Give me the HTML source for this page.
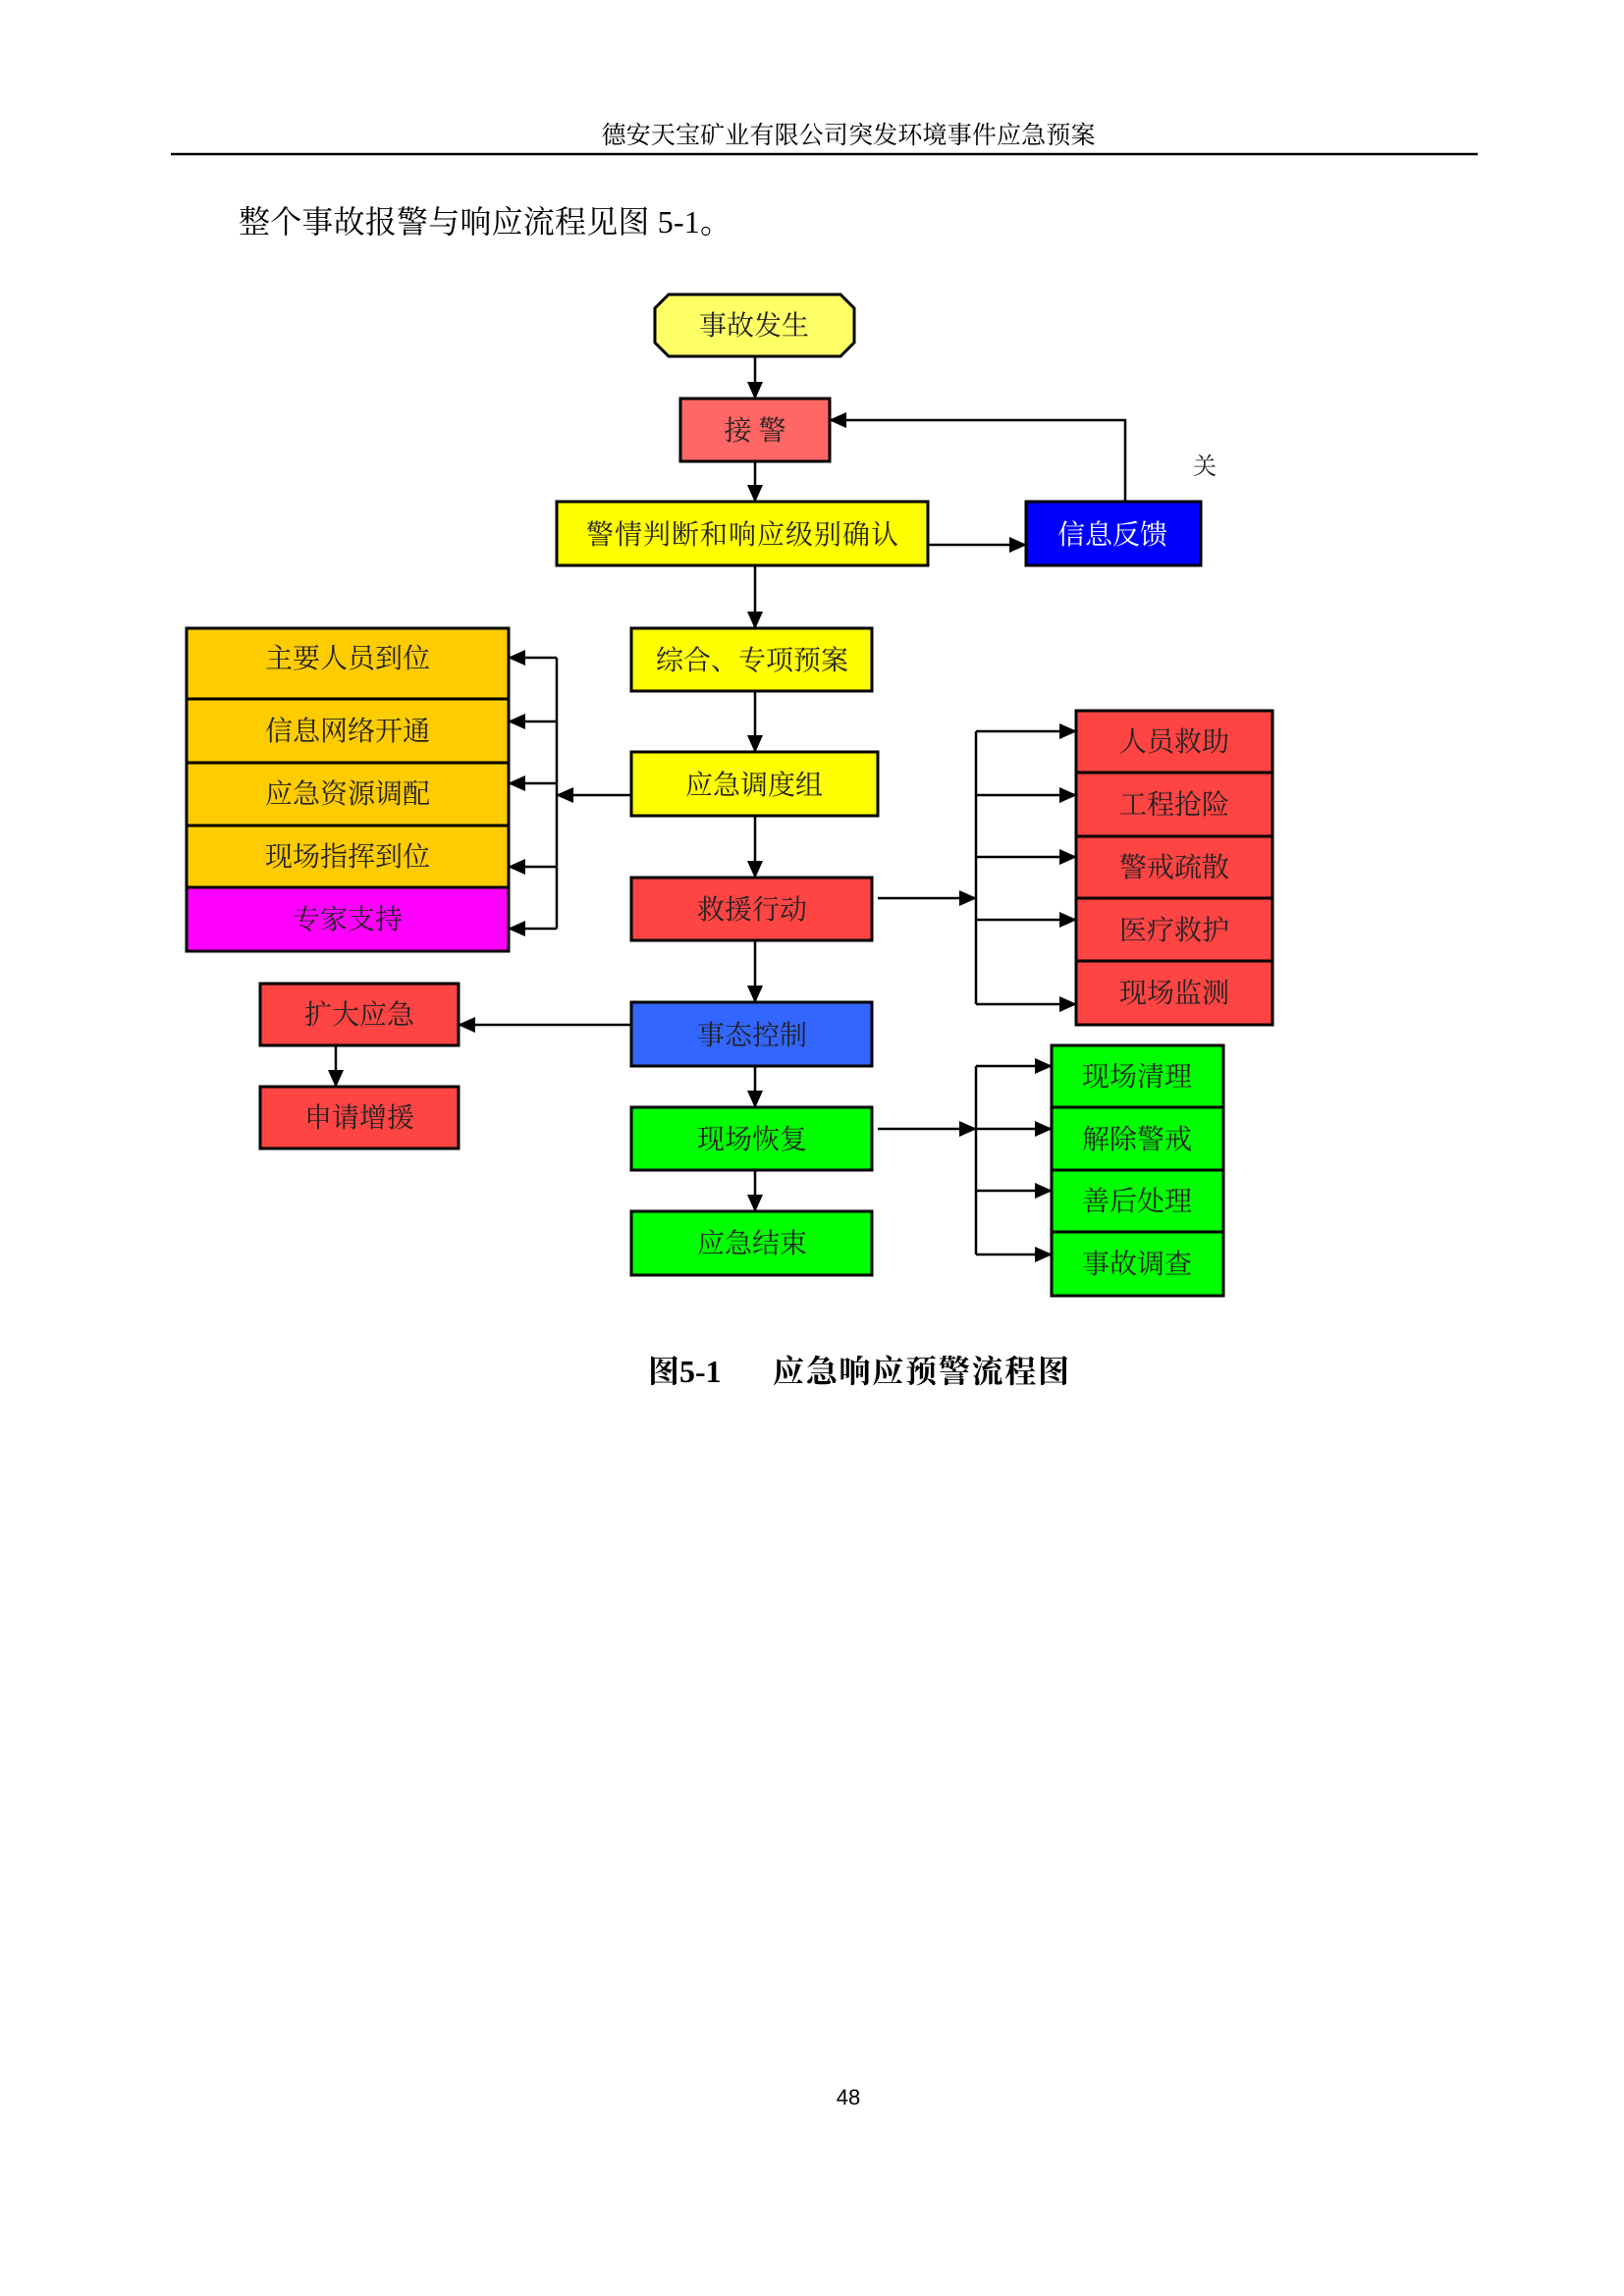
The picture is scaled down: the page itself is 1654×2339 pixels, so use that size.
<!DOCTYPE html>
<html><head><meta charset="utf-8"><style>
html,body{margin:0;padding:0;background:#fff;}
svg{display:block;}
text{font-family:"Liberation Serif","Noto Serif CJK SC",serif;}
text.sans{font-family:"Liberation Sans",sans-serif;}
</style></head><body>
<svg width="1654" height="2339" viewBox="0 0 1654 2339" xmlns="http://www.w3.org/2000/svg">
<defs>
<marker id="a" markerWidth="18" markerHeight="16" refX="17" refY="8" orient="auto" markerUnits="userSpaceOnUse">
<path d="M0,0 L18,8 L0,16 z" fill="#000"/></marker>
</defs>
<text x="864" y="146" font-size="25" text-anchor="middle" textLength="503">德安天宝矿业有限公司突发环境事件应急预案</text>
<line x1="174" y1="157" x2="1505" y2="157" stroke="#000" stroke-width="2.5"/>
<text x="243" y="237" font-size="32" textLength="502">整个事故报警与响应流程见图 5-1。</text>

<g stroke="#000" stroke-width="3" font-size="28">
<path d="M681,300 H856 L870,314 V349 L856,363 H681 L667,349 V314 Z" fill="#FFFF66"/>
<rect x="693" y="406" width="152" height="64" fill="#FF6666"/>
<rect x="567" y="511" width="378" height="65" fill="#FFFF00"/>
<rect x="1045" y="511" width="178" height="65" fill="#0000FF"/>
<rect x="643" y="640" width="245" height="64" fill="#FFFF00"/>
<rect x="643" y="766" width="251" height="65" fill="#FFFF00"/>
<rect x="643" y="894" width="245" height="64" fill="#FF4444"/>
<rect x="643" y="1021" width="245" height="65" fill="#3366FF"/>
<rect x="643" y="1128" width="245" height="64" fill="#00FF00"/>
<rect x="643" y="1234" width="245" height="65" fill="#00FF00"/>
<rect x="265" y="1002" width="202" height="63" fill="#FF4444"/>
<rect x="265" y="1107" width="202" height="63" fill="#FF4444"/>
<rect x="190" y="640" width="328" height="72" fill="#FFCC00"/>
<rect x="190" y="712" width="328" height="65" fill="#FFCC00"/>
<rect x="190" y="777" width="328" height="64" fill="#FFCC00"/>
<rect x="190" y="841" width="328" height="63" fill="#FFCC00"/>
<rect x="190" y="904" width="328" height="65" fill="#FF00FF"/>
<rect x="1096" y="724" width="200" height="63" fill="#FF4444"/>
<rect x="1096" y="787" width="200" height="65" fill="#FF4444"/>
<rect x="1096" y="852" width="200" height="63" fill="#FF4444"/>
<rect x="1096" y="915" width="200" height="64" fill="#FF4444"/>
<rect x="1096" y="979" width="200" height="65" fill="#FF4444"/>
<rect x="1071" y="1065" width="175" height="63" fill="#00FF00"/>
<rect x="1071" y="1128" width="175" height="64" fill="#00FF00"/>
<rect x="1071" y="1192" width="175" height="63" fill="#00FF00"/>
<rect x="1071" y="1255" width="175" height="65" fill="#00FF00"/>
</g>

<g stroke="#000" stroke-width="2.5" fill="none">
<line x1="769" y1="363" x2="769" y2="406" marker-end="url(#a)"/>
<line x1="769" y1="470" x2="769" y2="511" marker-end="url(#a)"/>
<line x1="769" y1="576" x2="769" y2="640" marker-end="url(#a)"/>
<line x1="769" y1="704" x2="769" y2="766" marker-end="url(#a)"/>
<line x1="769" y1="831" x2="769" y2="894" marker-end="url(#a)"/>
<line x1="769" y1="958" x2="769" y2="1021" marker-end="url(#a)"/>
<line x1="769" y1="1086" x2="769" y2="1128" marker-end="url(#a)"/>
<line x1="769" y1="1192" x2="769" y2="1234" marker-end="url(#a)"/>
<line x1="945" y1="555" x2="1045" y2="555" marker-end="url(#a)"/>
<polyline points="1146,511 1146,428 845,428" marker-end="url(#a)"/>
<line x1="643" y1="810" x2="567" y2="810" marker-end="url(#a)"/>
<line x1="567" y1="670" x2="567" y2="946"/>
<line x1="567" y1="670" x2="518" y2="670" marker-end="url(#a)"/>
<line x1="567" y1="735" x2="518" y2="735" marker-end="url(#a)"/>
<line x1="567" y1="798" x2="518" y2="798" marker-end="url(#a)"/>
<line x1="567" y1="883" x2="518" y2="883" marker-end="url(#a)"/>
<line x1="567" y1="946" x2="518" y2="946" marker-end="url(#a)"/>
<line x1="894" y1="915" x2="994" y2="915" marker-end="url(#a)"/>
<line x1="994" y1="745" x2="994" y2="1023"/>
<line x1="994" y1="745" x2="1096" y2="745" marker-end="url(#a)"/>
<line x1="994" y1="810" x2="1096" y2="810" marker-end="url(#a)"/>
<line x1="994" y1="873" x2="1096" y2="873" marker-end="url(#a)"/>
<line x1="994" y1="937" x2="1096" y2="937" marker-end="url(#a)"/>
<line x1="994" y1="1023" x2="1096" y2="1023" marker-end="url(#a)"/>
<line x1="643" y1="1044" x2="467" y2="1044" marker-end="url(#a)"/>
<line x1="342" y1="1065" x2="342" y2="1107" marker-end="url(#a)"/>
<line x1="894" y1="1150" x2="994" y2="1150" marker-end="url(#a)"/>
<line x1="994" y1="1086" x2="994" y2="1278"/>
<line x1="994" y1="1086" x2="1071" y2="1086" marker-end="url(#a)"/>
<line x1="994" y1="1150" x2="1071" y2="1150" marker-end="url(#a)"/>
<line x1="994" y1="1213" x2="1071" y2="1213" marker-end="url(#a)"/>
<line x1="994" y1="1278" x2="1071" y2="1278" marker-end="url(#a)"/>
</g>

<g font-size="28" text-anchor="middle" fill="#222">
<text x="768" y="341">事故发生</text>
<text x="769" y="448">接  警</text>
<text x="756" y="554" textLength="318">警情判断和响应级别确认</text>
<text x="1133" y="554" fill="#fff">信息反馈</text>
<text x="766" y="682">综合、专项预案</text>
<text x="768" y="809">应急调度组</text>
<text x="766" y="936">救援行动</text>
<text x="766" y="1064">事态控制</text>
<text x="766" y="1170">现场恢复</text>
<text x="766" y="1276">应急结束</text>
<text x="366" y="1043">扩大应急</text>
<text x="366" y="1148">申请增援</text>
<text x="354" y="680">主要人员到位</text>
<text x="354" y="754">信息网络开通</text>
<text x="354" y="818">应急资源调配</text>
<text x="354" y="882">现场指挥到位</text>
<text x="354" y="946">专家支持</text>
<text x="1196" y="765">人员救助</text>
<text x="1196" y="829">工程抢险</text>
<text x="1196" y="893">警戒疏散</text>
<text x="1196" y="957">医疗救护</text>
<text x="1196" y="1021">现场监测</text>
<text x="1158" y="1106">现场清理</text>
<text x="1158" y="1170">解除警戒</text>
<text x="1158" y="1233">善后处理</text>
<text x="1158" y="1297">事故调查</text>
<text x="1227" y="483" font-size="24">关</text>
</g>
<text x="660" y="1408" font-size="32" font-weight="bold">图5-1</text>
<text x="787" y="1408" font-size="32" font-weight="bold" textLength="302">应急响应预警流程图</text>
<text class="sans" x="864" y="2144" font-size="22" text-anchor="middle">48</text>
</svg>
</body></html>
